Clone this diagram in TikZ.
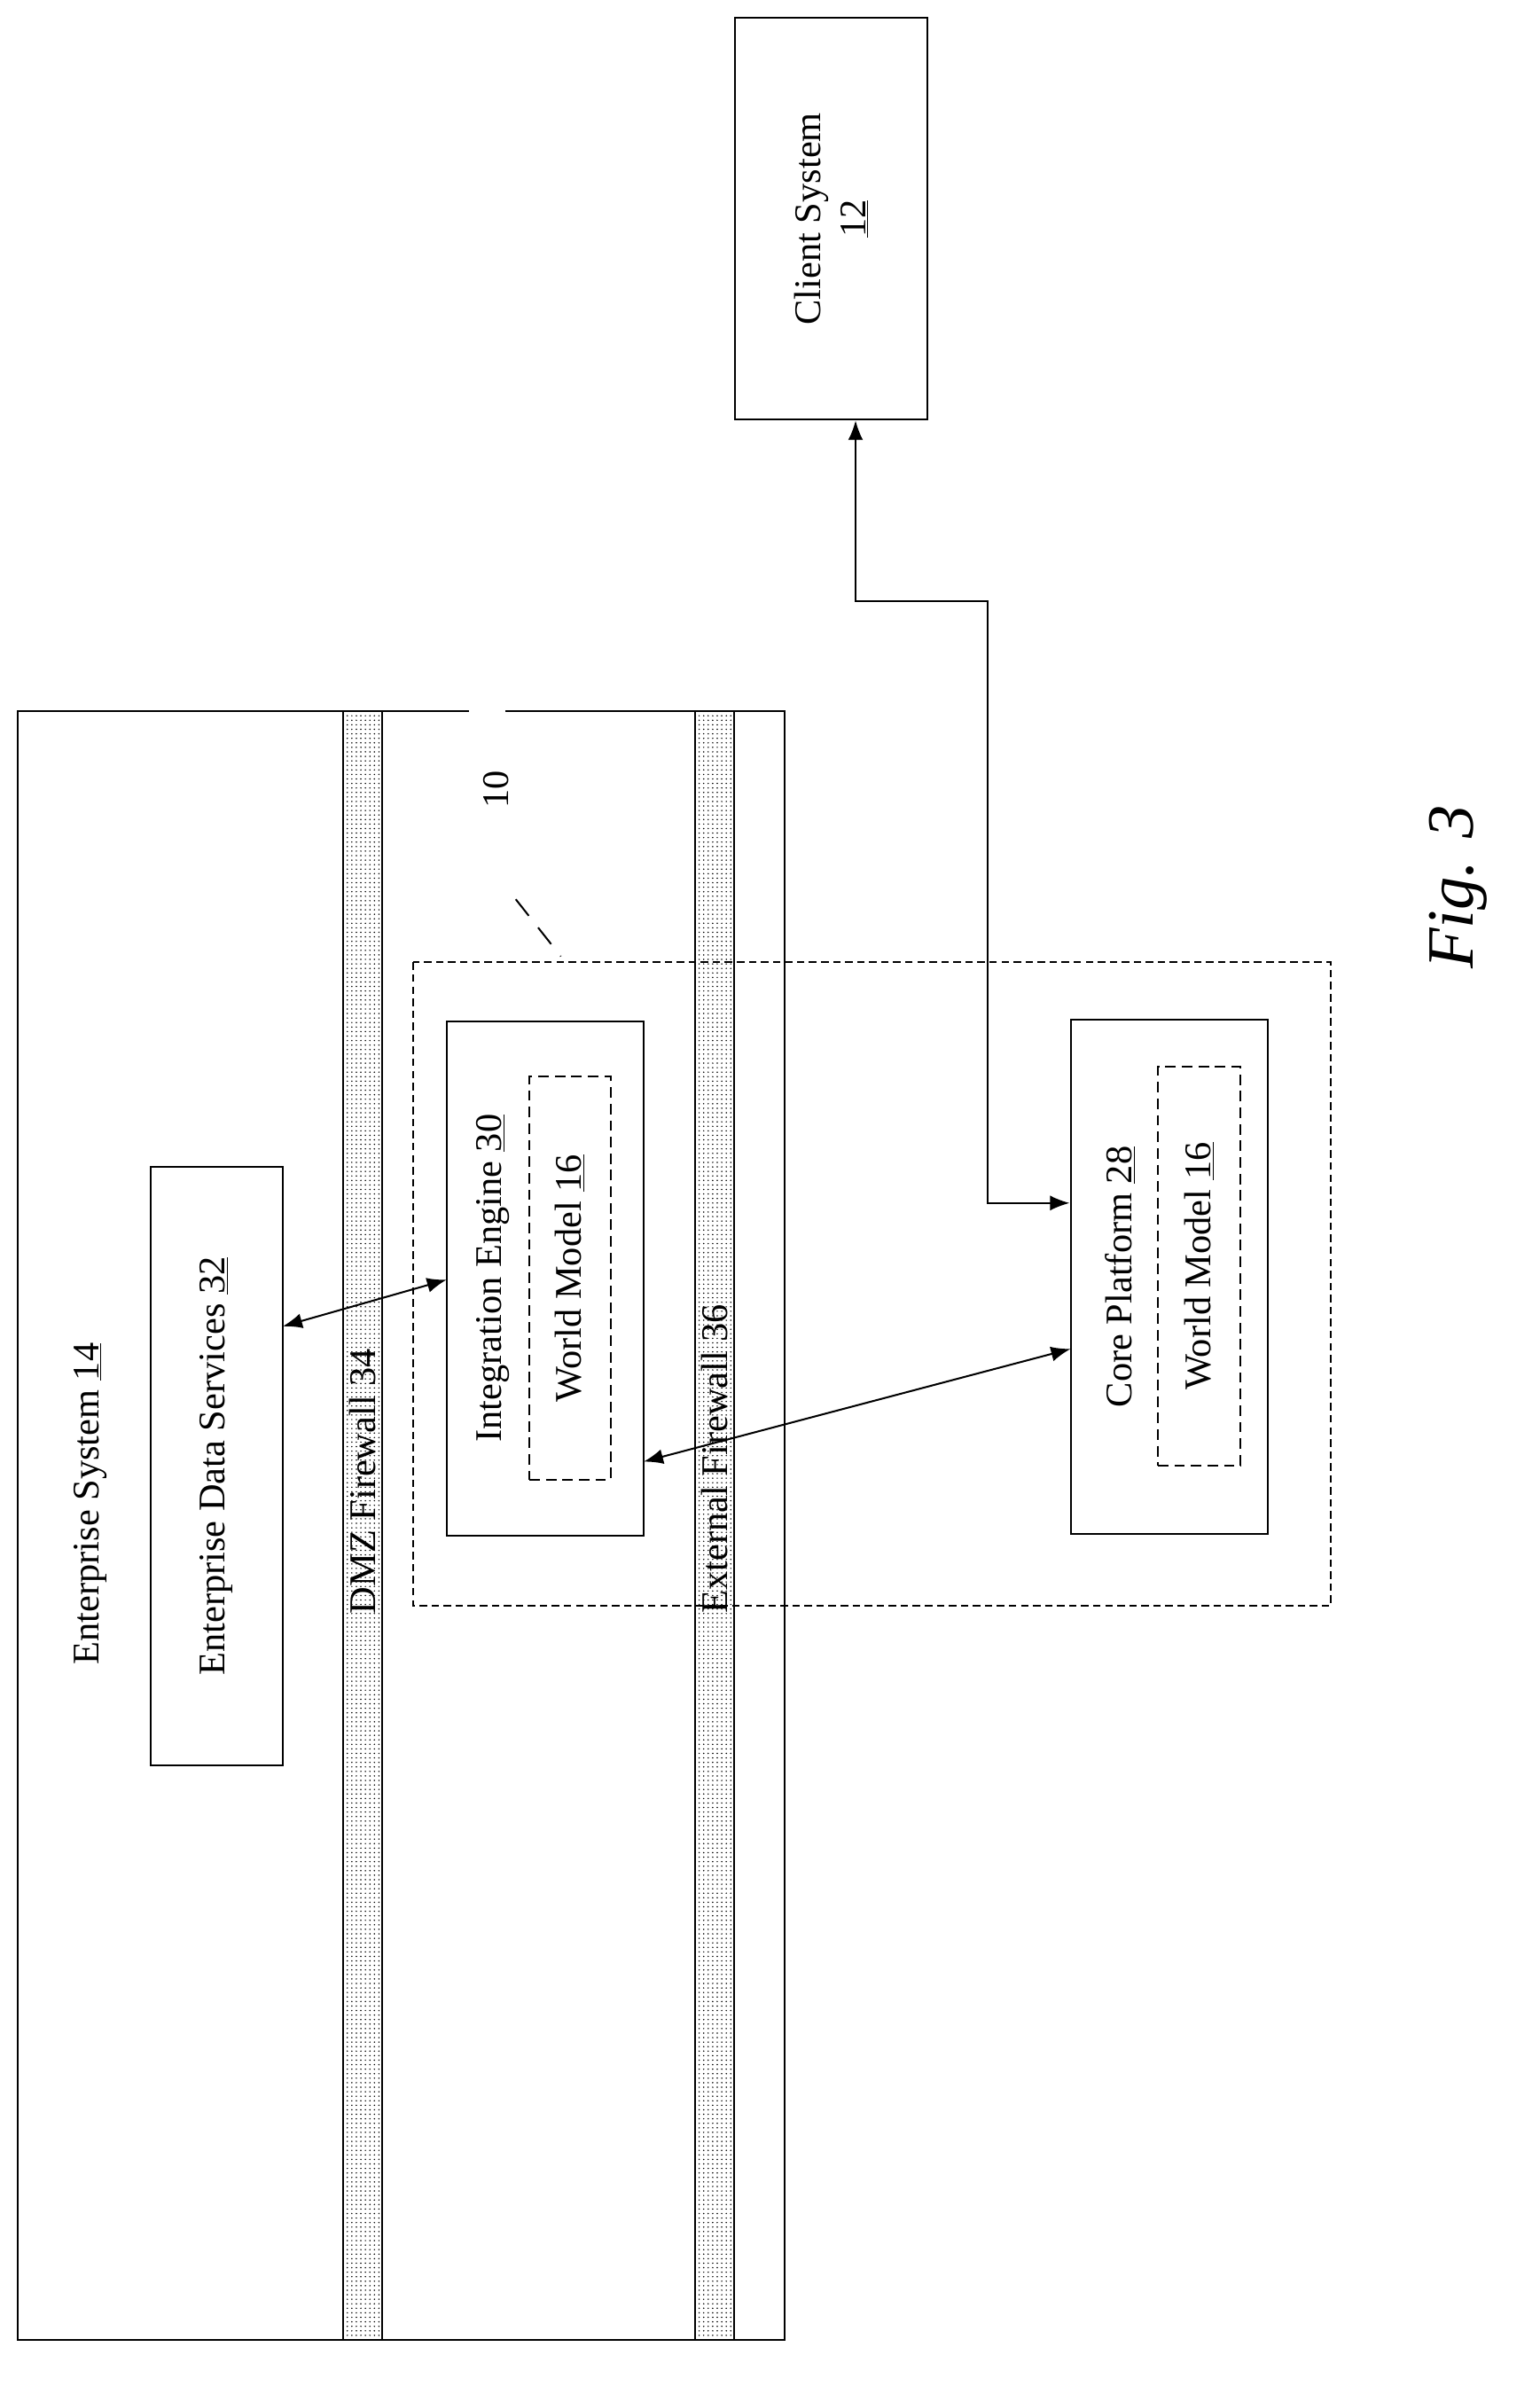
\documentclass[tikz,border=0pt]{standalone}
\usepackage{fontspec}
\setmainfont{Liberation Serif}
\usetikzlibrary{patterns,arrows.meta}
\begin{document}
\begin{tikzpicture}[x=1pt,y=1pt,yscale=-1,xscale=1,
  box/.style={draw,line width=1.2pt},
  dbox/.style={draw,line width=1.2pt,dash pattern=on 7pt off 4pt},
  wall/.style={draw,line width=1.2pt,pattern=dots},
  lbl/.style={rotate=90,font=\fontsize{25}{30}\selectfont,inner sep=1pt},
  link/.style={line width=1.2pt,{Latex[length=13pt,width=10pt]}-{Latex[length=13pt,width=10pt]}}]
\useasboundingbox (0,0) rectangle (1024,1592);

% enterprise side
\draw[box] (12,473) rectangle (522,1556);
\fill[white] (312,470) rectangle (336,476);
\draw[wall] (228,473) rectangle (254,1556);
\draw[wall] (462,473) rectangle (488,1556);
\draw[dbox,dash pattern=on 5pt off 3pt] (275,640) rectangle (885,1068);

\node[box,minimum width=88pt,minimum height=398pt] (eds) at (144,975) {};
\node[lbl] at (eds) {Enterprise Data Services \underline{32}};
\node[lbl] (es) at (60,1000) {Enterprise System \underline{14}};
\node[lbl] (dmz) at (241,985) {DMZ Firewall 34};
\node[lbl] (ext) at (475,970) {External Firewall 36};

\node[box,fill=white,minimum width=131pt,minimum height=342pt] (ie) at (362.5,850) {};
\node[lbl] at (328,850) {Integration Engine \underline{30}};
\node[dbox,minimum width=54pt,minimum height=268pt] (wm1) at (379,850) {};
\node[lbl] at (wm1) {World Model \underline{16}};

\node[box,minimum width=131pt,minimum height=342pt] (cp) at (777.5,849) {};
\node[lbl] at (745,849) {Core Platform \underline{28}};
\node[dbox,minimum width=55pt,minimum height=265pt] (wm2) at (797.5,842) {};
\node[lbl] at (wm2) {World Model \underline{16}};

\node[box,minimum width=128pt,minimum height=267pt] (cs) at (553,145.5) {};
\node[lbl,align=center] at (cs) {Client System\\\underline{12}};

\node[lbl] (ten) at (330,525) {10};
\draw[line width=1.2pt,dash pattern=on 14pt off 10pt] (343,598) -- (373,636);

\node[rotate=90,font=\itshape\fontsize{44}{50}\selectfont] (fig) at (970,590) {Fig. 3};

% links
\coordinate (c1) at (657,800);
\draw[link] (cp.west|-c1) -- (c1) -- (657,400) -- (569,400) -- (cs.south-|569,0);
\draw[link] (188,882) -- (297,851);
\draw[link] (428,972) -- (712,897);
\end{tikzpicture}
\end{document}
